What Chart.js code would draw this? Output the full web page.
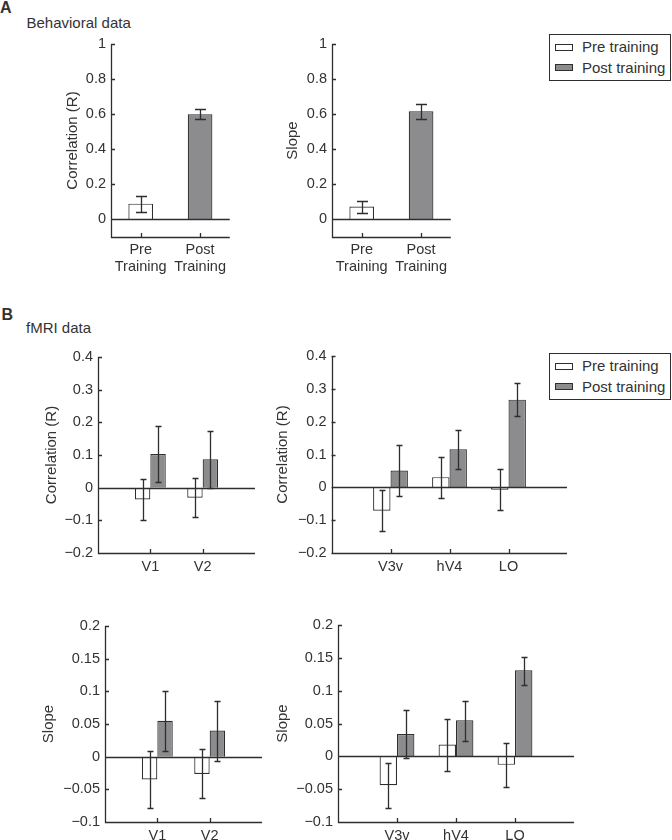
<!DOCTYPE html>
<html>
<head>
<meta charset="utf-8">
<script src="https://cdn.jsdelivr.net/npm/chart.js@4.4.1/dist/chart.umd.min.js"></script>
<style>
  body { margin: 0; background: #fff; width: 672px; height: 840px; position: relative; overflow: hidden;
         font-family: "Liberation Sans", Arial, sans-serif; color: #333; }
  .panel { position: absolute; }
  .txt { position: absolute; line-height: 1; white-space: nowrap; }
  .legend { position: absolute; width: 122px; height: 47px; border: 1.3px solid #2e2e2e; box-sizing: border-box; background: #fff; }
  .legend .sw { position: absolute; left: 5px; width: 18px; height: 7px; border: 1px solid #2e2e2e; box-sizing: border-box; }
  .legend .lbl { position: absolute; left: 32px; font-size: 15px; line-height: 1; white-space: nowrap; }
</style>
</head>
<body>
<div class="txt" style="left:0px;top:0px;font-size:16px;font-weight:bold;">A</div>
<div class="txt" style="left:26.5px;top:14.6px;font-size:15px;">Behavioral data</div>
<div class="txt" style="left:1.5px;top:306.5px;font-size:16px;font-weight:bold;">B</div>
<div class="txt" style="left:26px;top:320px;font-size:15px;">fMRI data</div>

<script>
// ---- behavioral data (panel A) ----
const behavLabels = [['Pre', 'Training'], ['Post', 'Training']];
const behavCorr = [0.09, 0.60];
const behavCorrErr = [[0.045, 0.135], [0.573, 0.628]];
const behavSlope = [0.074, 0.617];
const behavSlopeErr = [[0.038, 0.108], [0.573, 0.659]];
const behavTicks = [0, 0.2, 0.4, 0.6, 0.8, 1];

// ---- fMRI data (panel B) ----
const earlyAreas = ['V1', 'V2'];
const lateAreas = ['V3v', 'hV4', 'LO'];
const corrTicks = [-0.2, -0.1, 0, 0.1, 0.2, 0.3, 0.4];
const slopeTicks = [-0.1, -0.05, 0, 0.05, 0.1, 0.15, 0.2];

const corrEarlyPre = [-0.036, -0.031];
const corrEarlyPreErr = [[-0.099, 0.027], [-0.090, 0.029]];
const corrEarlyPost = [0.103, 0.087];
const corrEarlyPostErr = [[0.017, 0.189], [-0.002, 0.175]];

const corrLatePre = [-0.071, 0.031, -0.007];
const corrLatePreErr = [[-0.132, -0.009], [-0.033, 0.093], [-0.069, 0.056]];
const corrLatePost = [0.051, 0.116, 0.267];
const corrLatePostErr = [[-0.027, 0.128], [0.057, 0.174], [0.217, 0.317]];

const slopeEarlyPre = [-0.035, -0.0265];
const slopeEarlyPreErr = [[-0.078, 0.009], [-0.064, 0.012]];
const slopeEarlyPost = [0.055, 0.040];
const slopeEarlyPostErr = [[0.009, 0.100], [-0.006, 0.085]];

const slopeLatePre = [-0.044, 0.018, -0.013];
const slopeLatePreErr = [[-0.078, -0.010], [-0.022, 0.057], [-0.046, 0.021]];
const slopeLatePost = [0.034, 0.055, 0.131];
const slopeLatePostErr = [[-0.003, 0.070], [0.024, 0.084], [0.109, 0.152]];

const INK = '#2e2e2e';
const POST = '#8c8c8e';
const PRE = '#ffffff';

Chart.defaults.font.family = '"Liberation Sans", Arial, sans-serif';
Chart.defaults.font.size = 14.5;
Chart.defaults.color = '#333';

// matlab-like axes: left/bottom lines, inward ticks, zero baseline, error bars
function axesPlugin(cap) {
    return {
        id: 'matlabAxes',
        afterDatasetsDraw(chart) {
            const { ctx, chartArea: a, scales: { x, y } } = chart;
            const px = v => Math.round(v) + 0.5;
            ctx.save();
            ctx.strokeStyle = INK;
            ctx.lineWidth = 1.3;
            ctx.beginPath();
            ctx.moveTo(px(a.left), a.top);
            ctx.lineTo(px(a.left), px(a.bottom));
            ctx.lineTo(a.right, px(a.bottom));
            const y0 = px(y.getPixelForValue(0));
            ctx.moveTo(a.left, y0);
            ctx.lineTo(a.right, y0);
            y.ticks.forEach(t => {
                const ty = px(y.getPixelForValue(t.value));
                ctx.moveTo(a.left, ty);
                ctx.lineTo(a.left + 4, ty);
            });
            x.ticks.forEach((t, i) => {
                const tx = px(x.getPixelForTick(i));
                ctx.moveTo(tx, a.bottom);
                ctx.lineTo(tx, a.bottom - 4);
            });
            ctx.stroke();

            // error bars
            ctx.beginPath();
            chart.data.datasets.forEach((ds, d) => {
                const meta = chart.getDatasetMeta(d);
                meta.data.forEach((bar, i) => {
                    const lo = px(y.getPixelForValue(ds.errors[i][0]));
                    const hi = px(y.getPixelForValue(ds.errors[i][1]));
                    const cx = px(bar.x);
                    ctx.moveTo(cx, lo); ctx.lineTo(cx, hi);
                    ctx.moveTo(cx - cap, lo); ctx.lineTo(cx + cap, lo);
                    ctx.moveTo(cx - cap, hi); ctx.lineTo(cx + cap, hi);
                });
            });
            ctx.stroke();
            ctx.restore();
        }
    };
}

// minus sign like the figure
const fmtTick = v => String(v).replace('-', '\u2212');

function makePanel(box, cfg) {
    const W = cfg.titleOffset + 9;
    const PT = 16;
    const left = box.left - W;
    const top = box.top - PT;
    const wrap = document.createElement('div');
    wrap.className = 'panel';
    wrap.style.left = left + 'px';
    wrap.style.top = top + 'px';
    wrap.style.width = (box.right - left) + 'px';
    wrap.style.height = (box.bottom + cfg.xHeight - top) + 'px';
    const cv = document.createElement('canvas');
    wrap.appendChild(cv);
    document.body.appendChild(wrap);

    const xScale = cfg.areas ? {
        type: 'linear',
        min: 0,
        max: cfg.areas.length + 1,
        offset: false,
        afterBuildTicks: s => { s.ticks = cfg.areas.map((a, i) => ({ value: i + 1 })); },
        ticks: { padding: 5, maxRotation: 0, autoSkip: false, callback: v => cfg.areas[v - 1] }
    } : {
        type: 'category',
        offset: true,
        ticks: { padding: 4, maxRotation: 0, autoSkip: false }
    };
    xScale.grid = { display: false, drawTicks: false };
    xScale.border = { display: false };
    xScale.afterFit = s => { s.height = cfg.xHeight; };

    new Chart(cv, {
        type: 'bar',
        data: { labels: cfg.labels, datasets: cfg.datasets },
        options: {
            responsive: true,
            maintainAspectRatio: false,
            animation: false,
            layout: { padding: { top: PT, left: 0, right: 0, bottom: 0 } },
            plugins: { legend: { display: false }, tooltip: { enabled: false } },
            scales: {
                x: xScale,
                y: {
                    min: cfg.yTicks[0] < 0 ? cfg.yTicks[0] : cfg.yMin,
                    max: cfg.yTicks[cfg.yTicks.length - 1],
                    afterBuildTicks: s => { s.ticks = cfg.yTicks.map(v => ({ value: v })); },
                    afterFit: s => { s.width = W; },
                    grid: { display: false, drawTicks: false },
                    border: { display: false },
                    ticks: { padding: 5, callback: fmtTick },
                    title: { display: true, text: cfg.yTitle, padding: 0, font: { size: 15 } }
                }
            }
        },
        plugins: [axesPlugin(cfg.cap)]
    });
}

function behavDataset(values, errors) {
    return {
        data: values,
        errors: errors,
        backgroundColor: [PRE, POST],
        borderColor: INK,
        borderWidth: 1.2,
        categoryPercentage: 1,
        barPercentage: 0.415
    };
}

function fmriDatasets(pre, preErr, post, postErr) {
    const common = { borderColor: INK, borderWidth: 1.2, categoryPercentage: 0.59, barPercentage: 1 };
    return [
        Object.assign({ label: 'Pre training', data: pre.map((v, i) => ({ x: i + 1, y: v })), errors: preErr, backgroundColor: PRE }, common),
        Object.assign({ label: 'Post training', data: post.map((v, i) => ({ x: i + 1, y: v })), errors: postErr, backgroundColor: POST }, common)
    ];
}

// panel A
makePanel({ left: 111, top: 44, right: 230, bottom: 237 }, {
    titleOffset: 38, xHeight: 45, cap: 5.5, yTitle: 'Correlation (R)',
    yTicks: behavTicks, yMin: -0.1, labels: behavLabels,
    datasets: [behavDataset(behavCorr, behavCorrErr)]
});
makePanel({ left: 332, top: 44, right: 451, bottom: 237 }, {
    titleOffset: 39, xHeight: 45, cap: 5.5, yTitle: 'Slope',
    yTicks: behavTicks, yMin: -0.1, labels: behavLabels,
    datasets: [behavDataset(behavSlope, behavSlopeErr)]
});

// panel B
makePanel({ left: 98, top: 357, right: 255, bottom: 553 }, {
    titleOffset: 46, xHeight: 25, cap: 3, yTitle: 'Correlation (R)',
    yTicks: corrTicks, areas: earlyAreas,
    datasets: fmriDatasets(corrEarlyPre, corrEarlyPreErr, corrEarlyPost, corrEarlyPostErr)
});
makePanel({ left: 331, top: 356, right: 567, bottom: 553 }, {
    titleOffset: 48.5, xHeight: 25, cap: 3, yTitle: 'Correlation (R)',
    yTicks: corrTicks, areas: lateAreas,
    datasets: fmriDatasets(corrLatePre, corrLatePreErr, corrLatePost, corrLatePostErr)
});
makePanel({ left: 105, top: 626, right: 262, bottom: 822 }, {
    titleOffset: 56, xHeight: 25, cap: 3, yTitle: 'Slope',
    yTicks: slopeTicks, areas: earlyAreas,
    datasets: fmriDatasets(slopeEarlyPre, slopeEarlyPreErr, slopeEarlyPost, slopeEarlyPostErr)
});
makePanel({ left: 338, top: 625, right: 574, bottom: 822 }, {
    titleOffset: 55, xHeight: 25, cap: 3, yTitle: 'Slope',
    yTicks: slopeTicks, areas: lateAreas,
    datasets: fmriDatasets(slopeLatePre, slopeLatePreErr, slopeLatePost, slopeLatePostErr)
});

// legends (two copies, as in the figure)
function makeLegend(left, top) {
    const box = document.createElement('div');
    box.className = 'legend';
    box.style.left = left + 'px';
    box.style.top = top + 'px';
    box.innerHTML =
        '<div class="sw" style="top:9px;background:' + PRE + '"></div>' +
        '<div class="lbl" style="top:4px">Pre training</div>' +
        '<div class="sw" style="top:29px;background:' + POST + '"></div>' +
        '<div class="lbl" style="top:25px">Post training</div>';
    document.body.appendChild(box);
}
makeLegend(549, 34);
makeLegend(549, 353);
</script>
</body>
</html>
